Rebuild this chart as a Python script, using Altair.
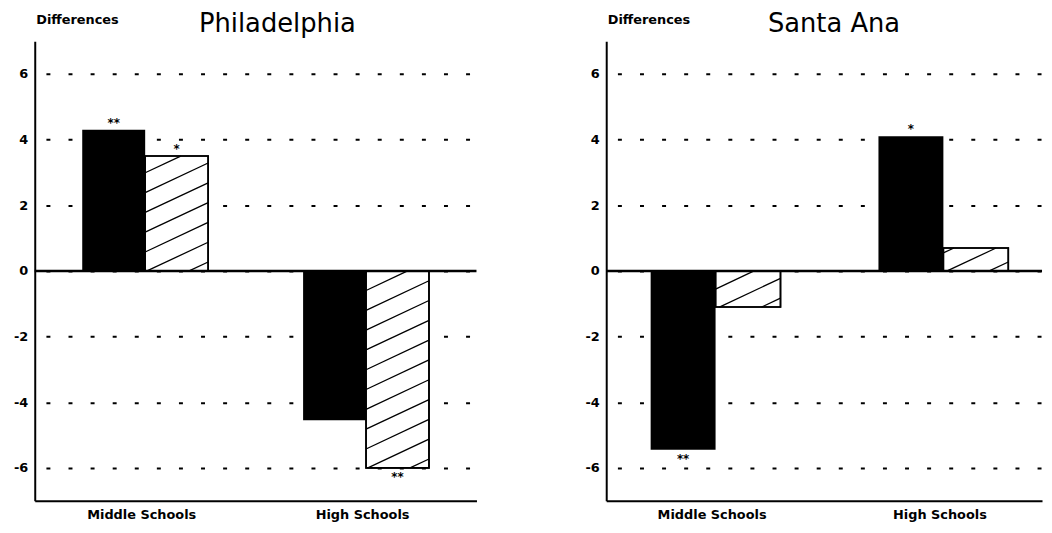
import altair as alt
import pandas as pd
import numpy as np

# ---------------- data ----------------
categories = ["Middle Schools", "High Schools"]
cities = ["Philadelphia", "Santa Ana"]

philadelphia_solid = [4.3, -4.55]
philadelphia_hatched = [3.5, -6.0]
santa_ana_solid = [-5.45, 4.1]
santa_ana_hatched = [-1.1, 0.7]

philadelphia_solid_sig = ["**", ""]
philadelphia_hatched_sig = ["*", "**"]
santa_ana_solid_sig = ["**", "*"]
santa_ana_hatched_sig = ["", ""]

y_ticks = [-6, -4, -2, 0, 2, 4, 6]
y_domain = [-7, 7]

# ---------------- layout / style ----------------
HEIGHT = 464
BAR_W = 0.285          # bar width in category units
HATCH_SLOPE_PX = 0.47  # rise per px run of hatch lines
HATCH_GAP_PX = 20      # vertical spacing of hatch lines
FONT = "DejaVu Sans"


def hatch_segments(xa, xb, ya, yb, s, d):
    """Diagonal hatch lines clipped to the rectangle [xa,xb]x[ya,yb] (data units)."""
    segs = []
    span = s * (xb - xa)
    c = ya - span + 0.45 * d
    while c < yb:
        x_start = max(xa, xa + (ya - c) / s)
        x_end = min(xb, xa + (yb - c) / s)
        if x_end - x_start > 1e-4:
            segs.append({"hx": x_start, "hy": s * (x_start - xa) + c,
                         "hx2": x_end, "hy2": s * (x_end - xa) + c})
        c += d
    return segs


def panel(city, solid, hatched, solid_sig, hatched_sig, width, x_domain, title_dx):
    solid_rows, hatched_rows, sig_rows, lines = [], [], [], []
    xpu = width / (x_domain[1] - x_domain[0])
    ypu = HEIGHT / (y_domain[1] - y_domain[0])
    s = HATCH_SLOPE_PX * xpu / ypu
    d = HATCH_GAP_PX / ypu
    for i, cat in enumerate(categories):
        center = i + 0.5
        solid_rows.append({"x0": center - BAR_W, "x1": center, "val": solid[i], "zero": 0})
        hatched_rows.append({"x0": center, "x1": center + BAR_W, "val": hatched[i], "zero": 0})
        sig_rows.append({"xc": center - BAR_W / 2, "val": solid[i], "sig": solid_sig[i]})
        sig_rows.append({"xc": center + BAR_W / 2, "val": hatched[i], "sig": hatched_sig[i]})
        lo, hi = min(0, hatched[i]), max(0, hatched[i])
        lines += hatch_segments(center, center + BAR_W, lo, hi, s, d)

    df_solid = pd.DataFrame(solid_rows)
    df_hatched = pd.DataFrame(hatched_rows)
    df_sig = pd.DataFrame(sig_rows)
    df_sig = df_sig[df_sig["sig"] != ""]
    df_lines = pd.DataFrame(lines)

    label_expr = "datum.value < 1 ? '%s' : '%s'" % (categories[0], categories[1])
    xscale = alt.Scale(domain=x_domain, nice=False, zero=False)
    yscale = alt.Scale(domain=y_domain, nice=False, zero=False)
    xaxis = alt.Axis(title=None, values=[0.5, 1.5], labelExpr=label_expr, ticks=False,
                     grid=False, domain=True, domainColor="black", domainWidth=2,
                     labelFont=FONT, labelFontSize=13, labelFontWeight="bold",
                     labelColor="black", labelPadding=8, labelOffset=-4)
    yaxis = alt.Axis(title="Differences", titleAngle=0, titleX=1, titleY=-18,
                     titleAlign="left", titleBaseline="alphabetic",
                     titleFont=FONT, titleFontSize=13, titleFontWeight="bold",
                     titleColor="black",
                     values=y_ticks, labelExpr="'' + datum.value", ticks=False,
                     labelFont=FONT, labelFontSize=13, labelFontWeight="bold",
                     labelColor="black", labelPadding=7,
                     domain=True, domainColor="black", domainWidth=2,
                     grid=True, gridColor="black", gridWidth=2,
                     gridDash=[4, 18.3], gridDashOffset=11)

    def X(f):
        return alt.X(f, scale=xscale, axis=xaxis)

    def Y(f):
        return alt.Y(f, scale=yscale, axis=yaxis)

    solid_bars = alt.Chart(df_solid).mark_rect(color="black").encode(
        x=X("x0:Q"), x2="x1:Q", y=Y("val:Q"), y2="zero:Q")
    hatched_bars = alt.Chart(df_hatched).mark_rect(
        fill="white", stroke="black", strokeWidth=1.6).encode(
        x=X("x0:Q"), x2="x1:Q", y=Y("val:Q"), y2="zero:Q")
    hatch = alt.Chart(df_lines).mark_rule(color="black", strokeWidth=1.3).encode(
        x=X("hx:Q"), x2="hx2:Q", y=Y("hy:Q"), y2="hy2:Q")
    outline = alt.Chart(df_hatched).mark_rect(
        fill="transparent", stroke="black", strokeWidth=1.6).encode(
        x=X("x0:Q"), x2="x1:Q", y=Y("val:Q"), y2="zero:Q")
    zero_line = alt.Chart(pd.DataFrame({"z": [0]})).mark_rule(
        color="black", strokeWidth=2.5).encode(y=Y("z:Q"))
    sig_up = alt.Chart(df_sig).transform_filter("datum.val > 0").mark_text(
        font=FONT, fontSize=12, fontWeight="bold", color="black",
        baseline="bottom", dy=0).encode(x=X("xc:Q"), y=Y("val:Q"), text="sig:N")
    sig_down = alt.Chart(df_sig).transform_filter("datum.val < 0").mark_text(
        font=FONT, fontSize=12, fontWeight="bold", color="black",
        baseline="top", dy=4).encode(x=X("xc:Q"), y=Y("val:Q"), text="sig:N")

    return alt.layer(solid_bars, hatched_bars, hatch, outline, zero_line,
                     sig_up, sig_down).properties(
        width=width, height=HEIGHT,
        title=alt.TitleParams(city, font=FONT, fontSize=26, fontWeight="normal",
                              color="black", anchor="middle", frame="group",
                              dx=title_dx, baseline="alphabetic", offset=-45))


left = panel(cities[0], philadelphia_solid, philadelphia_hatched,
             philadelphia_solid_sig, philadelphia_hatched_sig, 446, [0, 2], 22)
right = panel(cities[1], santa_ana_solid, santa_ana_hatched,
              santa_ana_solid_sig, santa_ana_hatched_sig, 440, [0.02, 1.933], 10)

chart = alt.hconcat(left, right, spacing=107).properties(
    padding={"left": 5, "top": 1, "right": 0, "bottom": 0},
    background="white",
).configure_view(stroke=None)

chart.save("out.html", embed_options={"renderer": "svg", "actions": False})
